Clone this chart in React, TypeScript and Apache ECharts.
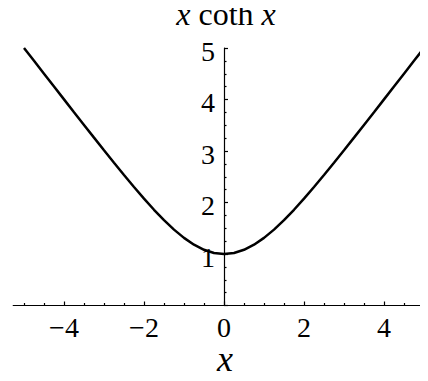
import React, { useEffect, useRef } from "react";
import * as echarts from "echarts";

const xValues = [
  -5, -4.75, -4.5, -4.25, -4, -3.75, -3.5, -3.25, -3, -2.75, -2.5, -2.25, -2, -1.75, -1.5, -1.25, -1, -0.75, -0.5, -0.25,
  0, 0.25, 0.5, 0.75, 1, 1.25, 1.5, 1.75, 2, 2.25, 2.5, 2.75, 3, 3.25, 3.5, 3.75, 4, 4.25, 4.5, 4.75, 5,
];
const yValues = [
  5.0005, 4.7507, 4.5011, 4.2517, 4.0027, 3.7542, 3.5064, 3.2598, 3.0149, 2.7727, 2.5339, 2.3006, 2.0746, 1.859, 1.6572, 1.4736, 1.313, 1.1808, 1.082, 1.0207,
  1, 1.0207, 1.082, 1.1808, 1.313, 1.4736, 1.6572, 1.859, 2.0746, 2.3006, 2.5339, 2.7727, 3.0149, 3.2598, 3.5064, 3.7542, 4.0027, 4.2517, 4.5011, 4.7507, 5.0005,
];
const xMajorTicks = [-4, -2, 0, 2, 4];
const xMinorTicks = [-5, -4.5, -3.5, -3, -2.5, -1.5, -1, -0.5, 0.5, 1, 1.5, 2.5, 3, 3.5, 4.5, 5];
const yMajorTicks = [1, 2, 3, 4, 5];
const titleText = "{i|x} coth {i|x}";
const xName = "x";

const FONT = "Times New Roman, serif";

export default function App() {
  const ref = useRef<HTMLDivElement>(null);
  useEffect(() => {
    if (!ref.current) return;
    const chart = echarts.init(ref.current, null, { renderer: "svg" });
    const black = "#000";
    const xBase = {
      type: "value",
      min: -5.27,
      max: 5.1,
      position: "bottom",
      offset: 0,
      splitLine: { show: false },
      axisLabel: { show: false },
    };
    const labelStyle = { color: black, opacity: 1, fontFamily: FONT, fontSize: 28, lineHeight: 24 };
    chart.setOption({
      animation: false,
      grid: { left: 13.2, right: 0, top: 48, bottom: 75.5, containLabel: false },
      title: [
        {
          text: titleText,
          left: 226,
          top: 0,
          padding: 0,
          textAlign: "center",
          textStyle: {
            color: black,
            fontFamily: FONT,
            fontSize: 32,
            lineHeight: 28,
            fontWeight: "normal",
            rich: { i: { fontStyle: "italic", fontFamily: FONT, fontSize: 32, lineHeight: 28, color: black } },
          },
        },
        {
          text: xName,
          left: 225,
          top: 344,
          padding: 0,
          textAlign: "center",
          textStyle: { color: black, fontFamily: FONT, fontSize: 36, lineHeight: 30, fontStyle: "italic", fontWeight: "normal" },
        },
      ],
      xAxis: [
        {
          ...xBase,
          axisLine: { show: true, onZero: true, lineStyle: { color: black, width: 1.2 } },
          axisTick: { show: true, inside: true, length: 4, customValues: xMajorTicks, lineStyle: { color: black, width: 1.2 } },
        },
        {
          ...xBase,
          axisLine: { show: false, onZero: true },
          axisTick: { show: true, inside: true, length: 2.5, customValues: xMinorTicks, lineStyle: { color: black, width: 1.2 } },
        },
      ],
      yAxis: {
        type: "value",
        min: 0,
        max: 5,
        interval: 1,
        splitLine: { show: false },
        axisLine: { show: true, onZero: true, onZeroAxisIndex: 0, lineStyle: { color: black, width: 1.2 } },
        axisTick: { show: true, inside: true, length: 4, lineStyle: { color: black, width: 1.2 } },
        minorTick: { show: true, splitNumber: 4, length: 2.5, lineStyle: { color: black, width: 1.2 } },
        axisLabel: { show: false },
      },
      series: [
        {
          type: "line",
          xAxisIndex: 0,
          yAxisIndex: 0,
          data: xValues.map((x, i) => [x, yValues[i]]),
          showSymbol: false,
          symbol: "none",
          lineStyle: { color: black, width: 2.5 },
          clip: false,
        },
        {
          type: "scatter",
          xAxisIndex: 0,
          yAxisIndex: 0,
          data: yMajorTicks.map((v) => [0, v]),
          symbolSize: 0,
          silent: true,
          clip: false,
          itemStyle: { opacity: 1 },
          label: {
            show: true,
            position: "left",
            distance: 9,
            offset: [0, 3],
            ...labelStyle,
            formatter: (p: any) => String(p.value[1]),
          },
        },
        {
          type: "scatter",
          xAxisIndex: 0,
          yAxisIndex: 0,
          data: xMajorTicks.map((v) => [v, 0]),
          symbolSize: 0,
          silent: true,
          clip: false,
          itemStyle: { opacity: 1 },
          label: {
            show: true,
            position: "bottom",
            distance: 9.5,
            ...labelStyle,
            formatter: (p: any) => String(p.value[0]).replace("-", "\u2212"),
          },
        },
      ],
    });
    return () => chart.dispose();
  }, []);
  return <div ref={ref} style={{ width: 428, height: 381, margin: -8 }} />;
}
